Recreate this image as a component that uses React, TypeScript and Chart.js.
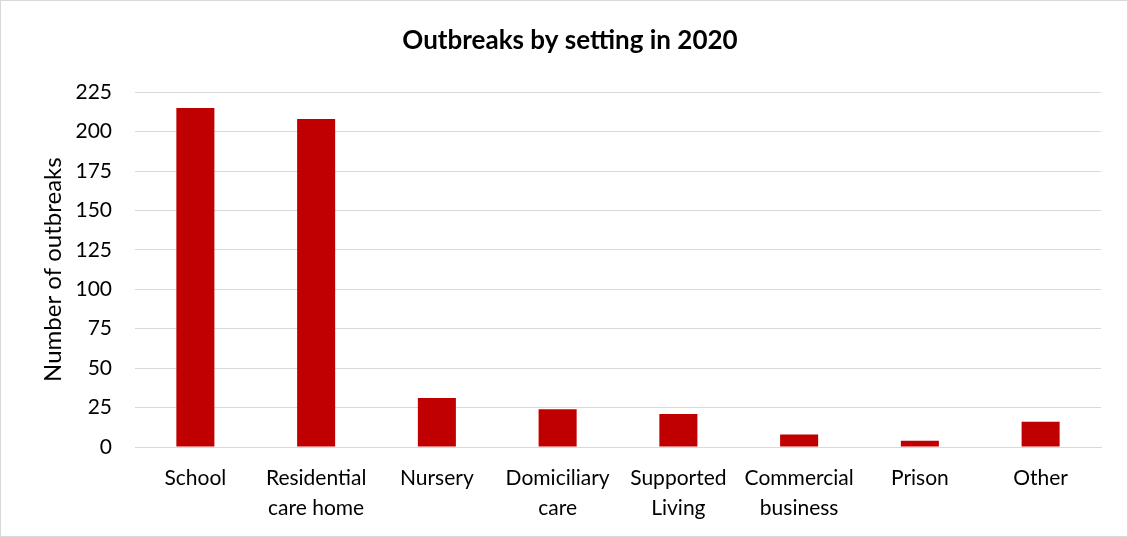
import React, { useEffect, useRef } from "react";
import { Chart, registerables } from "chart.js";

Chart.register(...registerables);

const categories: string[][] = [
  ["School"],
  ["Residential", "care home"],
  ["Nursery"],
  ["Domiciliary", "care"],
  ["Supported", "Living"],
  ["Commercial", "business"],
  ["Prison"],
  ["Other"],
];
const outbreaks: number[] = [215, 208, 31, 24, 21, 8, 4, 16];
const chartTitle = "Outbreaks by setting in 2020";
const yAxisTitle = "Number of outbreaks";

export default function App() {
  const ref = useRef<HTMLCanvasElement | null>(null);
  useEffect(() => {
    document.body.style.margin = "0";
    if (!ref.current) return;
    const font = "Lato, 'Open Sans', sans-serif";
    const chart = new Chart(ref.current, {
      type: "bar",
      data: {
        labels: categories,
        datasets: [
          {
            data: outbreaks,
            backgroundColor: "#C00000",
            categoryPercentage: 1,
            barPercentage: 0.315,
          },
        ],
      },
      options: {
        animation: false,
        responsive: false,
        maintainAspectRatio: false,
        layout: { padding: { left: 38, right: 26, top: 10, bottom: 13 } },
        plugins: {
          legend: { display: false },
          tooltip: { enabled: false },
          title: {
            display: true,
            text: chartTitle,
            color: "#000",
            font: { family: font, size: 26, weight: "bold", lineHeight: 1.2 },
            padding: { top: 14, bottom: 36 },
          },
        },
        scales: {
          x: {
            grid: { display: false, drawTicks: false },
            border: { display: true, color: "#d9d9d9", width: 1 },
            ticks: {
              color: "#000",
              font: { family: font, size: 21, lineHeight: 1.43 },
              maxRotation: 0,
              autoSkip: false,
              padding: 16,
            },
            afterFit: (scale: any) => {
              scale.height = 76;
            },
          },
          y: {
            min: 0,
            max: 225,
            grid: { color: "#d9d9d9", lineWidth: 1, drawTicks: false },
            border: { display: false },
            ticks: {
              stepSize: 25,
              color: "#000",
              font: { family: font, size: 21 },
              padding: 23,
            },
            title: {
              display: true,
              text: yAxisTitle,
              color: "#000",
              font: { family: font, size: 24, lineHeight: 1.2 },
              padding: { top: 0, bottom: 10 },
            },
            afterFit: (scale: any) => {
              scale.width = 96;
            },
          },
        },
      },
    });
    return () => chart.destroy();
  }, []);
  return (
    <div
      style={{
        width: 1128,
        height: 537,
        boxSizing: "border-box",
        border: "1px solid #d9d9d9",
        background: "#fff",
      }}
    >
      <canvas ref={ref} width={1126} height={535} style={{ display: "block" }} />
    </div>
  );
}
